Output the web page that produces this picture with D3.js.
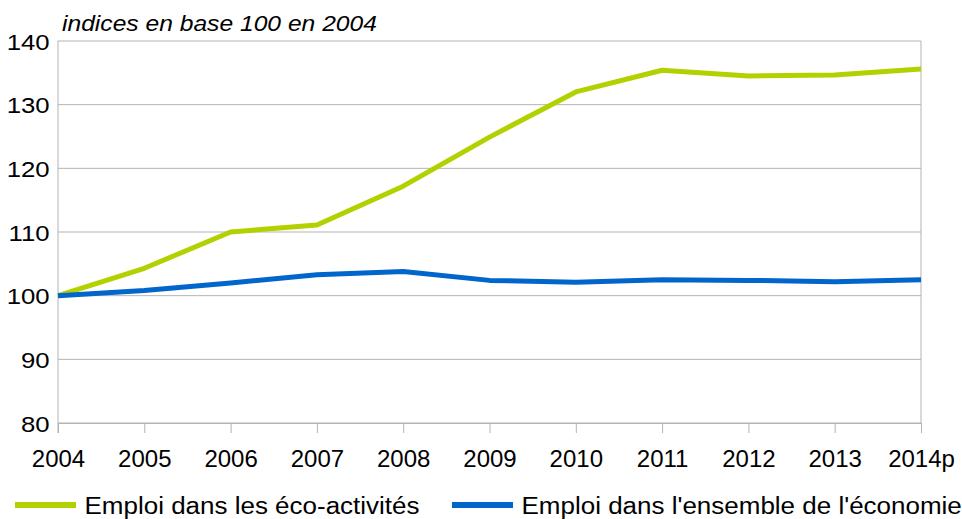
<!DOCTYPE html>
<html>
<head>
<meta charset="utf-8">
<style>
body { margin: 0; background: #fff; }
svg text { font-family: "Liberation Sans", Arial, sans-serif; fill: #000; }
.axis .domain { stroke: #b3b3b3; }
.axis line { stroke: #b3b3b3; }
</style>
</head>
<body>
<svg width="962" height="519"></svg>
<script src="https://d3js.org/d3.v7.min.js"></script>
<script>
var years = ["2004", "2005", "2006", "2007", "2008", "2009", "2010", "2011", "2012", "2013", "2014p"];
var ecoActivites = [100, 104.3, 110, 111.1, 117.2, 124.9, 132, 135.4, 134.5, 134.65, 135.6];
var ensembleEconomie = [100, 100.8, 102, 103.3, 103.8, 102.4, 102.1, 102.5, 102.4, 102.2, 102.5];
var yTicks = [80, 90, 100, 110, 120, 130, 140];
var seriesNames = ["Emploi dans les éco-activités", "Emploi dans l'ensemble de l'économie"];
var seriesColors = ["#b3d100", "#0066cc"];

var svg = d3.select("svg"),
    margin = {top: 41, right: 41, bottom: 96, left: 58},
    width = 962 - margin.left - margin.right,
    height = 519 - margin.top - margin.bottom,
    g = svg.append("g").attr("transform", "translate(" + margin.left + "," + margin.top + ")");

var x = d3.scalePoint().domain(years).range([0, width]);
var y = d3.scaleLinear().domain([80, 140]).range([height, 0]);

// horizontal grid
g.append("g")
  .selectAll("line")
  .data(yTicks)
  .enter().append("line")
    .attr("x1", 0)
    .attr("x2", width)
    .attr("y1", function(d) { return y(d); })
    .attr("y2", function(d) { return y(d); })
    .attr("stroke", "#b3b3b3")
    .attr("stroke-width", 1);

// right border
g.append("line")
    .attr("x1", width).attr("x2", width)
    .attr("y1", 0).attr("y2", height)
    .attr("stroke", "#b3b3b3");

// x axis
var xAxis = g.append("g")
    .attr("class", "axis")
    .attr("transform", "translate(0," + height + ")")
    .call(d3.axisBottom(x).tickSize(10).tickSizeOuter(0));
xAxis.selectAll("text")
    .attr("y", 43.5)
    .attr("dy", null)
    .style("font-size", "24px");

// y axis
var yAxis = g.append("g")
    .attr("class", "axis")
    .call(d3.axisLeft(y).tickValues(yTicks).tickSize(0).tickPadding(7.5));
yAxis.select(".domain").attr("d", "M0,0V" + (height + 10));
yAxis.selectAll("text")
    .style("font-size", "23px")
    .attr("dy", "0.36em")
    .attr("transform", "scale(1.12,1)");

// lines
var line = d3.line()
    .x(function(d, i) { return x(years[i]); })
    .y(function(d) { return y(d); });

[ecoActivites, ensembleEconomie].forEach(function(s, i) {
  g.append("path")
    .datum(s)
    .attr("fill", "none")
    .attr("stroke", seriesColors[i])
    .attr("stroke-width", 5)
    .attr("stroke-linejoin", "round")
    .attr("d", line);
});

// subtitle
svg.append("text")
    .attr("transform", "translate(62,31) scale(1.12,1)")
    .style("font-size", "22px")
    .style("font-style", "italic")
    .text("indices en base 100 en 2004");

// legend
var legendX = [15, 452];
var legend = svg.append("g")
  .selectAll("g")
  .data(seriesNames)
  .enter().append("g")
    .attr("transform", function(d, i) { return "translate(" + legendX[i] + ",505)"; });

legend.append("line")
    .attr("x1", 0).attr("x2", 61)
    .attr("stroke", function(d, i) { return seriesColors[i]; })
    .attr("stroke-width", 6);

legend.append("text")
    .attr("transform", "translate(69.5,9) scale(1.13,1)")
    .style("font-size", "23px")
    .text(function(d) { return d; });
</script>
</body>
</html>
